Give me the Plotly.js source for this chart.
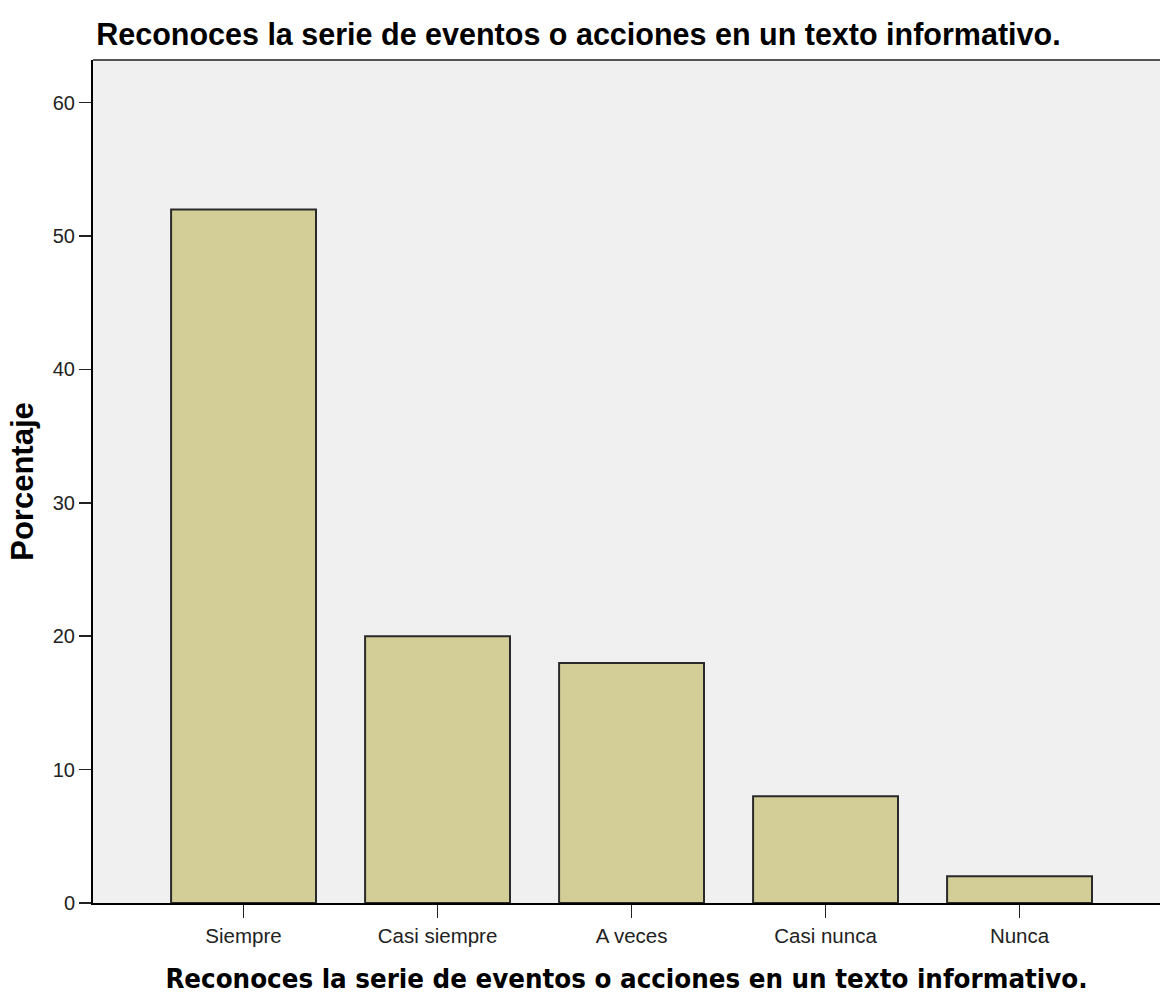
<!DOCTYPE html>
<html>
<head>
<meta charset="utf-8">
<script src="https://cdn.plot.ly/plotly-3.0.1.min.js"></script>
<style>
html,body{margin:0;padding:0;background:#fff;}
#chart{width:1160px;height:994px;}
</style>
</head>
<body>
<div id="chart"></div>
<script>
var categories = ["Siempre", "Casi siempre", "A veces", "Casi nunca", "Nunca"];
var percentages = [52, 20, 18, 8, 2];
var yTicks = [0, 10, 20, 30, 40, 50, 60];
var chartTitle = "Reconoces la serie de eventos o acciones en un texto informativo.";
var xTitle = "Reconoces la serie de eventos o acciones en un texto informativo.";
var yTitle = "Porcentaje";

var trace = {
  type: "bar",
  x: categories,
  y: percentages,
  width: 0.747,
  marker: {color: "#d3ce98", line: {color: "#2a2a2a", width: 2}},
  hoverinfo: "x+y"
};

var layout = {
  width: 1160,
  height: 994,
  margin: {l: 93, r: 0, t: 60, b: 91, pad: 0},
  paper_bgcolor: "#ffffff",
  plot_bgcolor: "#f0f0f0",
  showlegend: false,
  title: {
    text: chartTitle,
    font: {family: "Liberation Sans, Arial, sans-serif", size: 30.5, color: "#000", weight: "bold"},
    xref: "paper", x: 0.003, xanchor: "left",
    yref: "container", y: 1 - 34/994, yanchor: "middle"
  },
  xaxis: {
    type: "category",
    range: [-0.776, 4.724],
    showgrid: false,
    zeroline: false,
    showline: true, linecolor: "#000", linewidth: 2,
    ticks: "outside", ticklen: 13, tickwidth: 1.5, tickcolor: "#222",
    tickfont: {family: "Liberation Sans, Arial, sans-serif", size: 20.5, color: "#222"},
    title: {
      text: xTitle,
      font: {family: "DejaVu Sans Condensed, DejaVu Sans, sans-serif", size: 27.4, color: "#000", weight: "bold"},
      standoff: 24
    }
  },
  yaxis: {
    range: [0, 63.2],
    tickvals: yTicks,
    ticktext: yTicks.map(String),
    showgrid: false,
    zeroline: false,
    showline: true, linecolor: "#000", linewidth: 2,
    ticks: "outside", ticklen: 12, tickwidth: 1.5, tickcolor: "#222",
    tickfont: {family: "Liberation Sans, Arial, sans-serif", size: 20, color: "#222"},
    title: {
      text: yTitle,
      font: {family: "Liberation Sans, Arial, sans-serif", size: 31, color: "#000", weight: "bold"},
      standoff: 10
    }
  },
  shapes: [
    {type: "line", xref: "paper", yref: "paper", x0: 0, x1: 1, y0: 1, y1: 1,
     line: {color: "#555", width: 2}}
  ]
};

Plotly.newPlot("chart", [trace], layout, {displayModeBar: false, staticPlot: true});
</script>
</body>
</html>
